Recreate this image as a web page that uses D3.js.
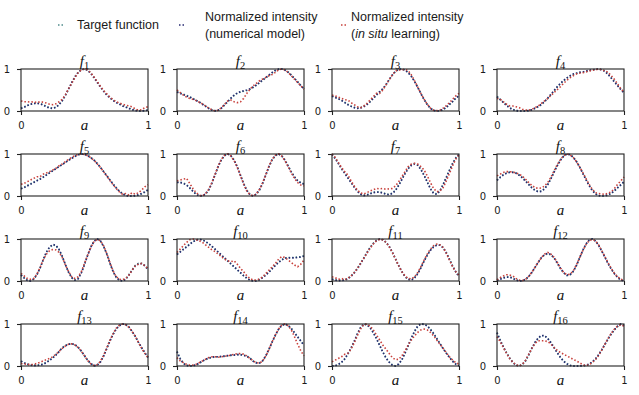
<!DOCTYPE html>
<html>
  <head>
    <script src="https://cdnjs.cloudflare.com/ajax/libs/d3/7.8.5/d3.min.js"></script>
    <style type="text/css">
      body { margin: 0; padding: 0; background: #fff; }
      svg { display: block; }
      .legend text { font-family: "Liberation Sans", Arial, sans-serif; font-size: 12.5px; fill: #1a1a1a; }
      .tick text { font-family: "DejaVu Sans", sans-serif; font-size: 10px; fill: #1a1a1a; }
      .tick line { stroke: #222; stroke-width: 1.1; }
      .title, .xlabel { font-family: "Liberation Serif", "DejaVu Serif", serif; font-style: italic; fill: #111; }
    </style>
  </head>
  <body>
    <div id="chart"></div>
    <script type="text/javascript">
    // sample positions along a
    const aGrid = [0,0.025,0.05,0.075,0.1,0.125,0.15,0.175,0.2,0.225,0.25,0.275,0.3,0.325,0.35,0.375,0.4,0.425,0.45,0.475,0.5,
      0.525,0.55,0.575,0.6,0.625,0.65,0.675,0.7,0.725,0.75,0.775,0.8,0.825,0.85,0.875,0.9,0.925,0.95,0.975,1];
    const xTicks = [0, 1];
    const yTicks = [0, 1];
    const seriesNames = ['Target function', 'Normalized intensity|(numerical model)', 'Normalized intensity|(in situ learning)'];

    const targetF1 = [0.07,0.10,0.13,0.16,0.18,0.19,0.18,0.15,0.11,0.08,0.07,0.09,0.15,0.24,0.37,0.52,0.67,0.81,0.92,0.98,1.00,0.97,0.90,0.80,0.69,0.58,0.48,0.39,0.32,0.26,0.21,0.17,0.13,0.10,0.07,0.04,0.02,0.00,0.00,0.01,0.03];
    const modelF1 = [0.06,0.09,0.13,0.16,0.18,0.18,0.17,0.14,0.10,0.07,0.06,0.09,0.15,0.25,0.38,0.53,0.68,0.82,0.92,0.98,1.00,0.97,0.89,0.79,0.68,0.57,0.47,0.38,0.31,0.25,0.20,0.16,0.12,0.09,0.06,0.03,0.01,0.00,0.00,0.01,0.02];
    const situF1 = [0.24,0.22,0.22,0.21,0.22,0.20,0.22,0.21,0.19,0.16,0.15,0.17,0.22,0.28,0.39,0.53,0.66,0.80,0.91,0.98,1.00,0.98,0.91,0.81,0.70,0.59,0.49,0.41,0.33,0.27,0.22,0.19,0.16,0.14,0.12,0.10,0.05,0.02,0.03,0.08,0.10];

    const targetF2 = [0.46,0.43,0.40,0.37,0.34,0.30,0.26,0.22,0.17,0.12,0.07,0.03,0.01,0.02,0.07,0.14,0.22,0.30,0.37,0.42,0.45,0.47,0.49,0.52,0.56,0.61,0.67,0.73,0.79,0.85,0.91,0.96,0.99,1.00,0.98,0.93,0.86,0.78,0.70,0.61,0.53];
    const modelF2 = [0.45,0.42,0.39,0.36,0.33,0.29,0.25,0.21,0.16,0.11,0.06,0.02,0.00,0.02,0.07,0.15,0.23,0.31,0.38,0.43,0.46,0.48,0.50,0.53,0.57,0.62,0.68,0.74,0.80,0.86,0.92,0.97,1.00,1.00,0.97,0.92,0.85,0.77,0.69,0.60,0.52];
    const situF2 = [0.50,0.44,0.38,0.33,0.30,0.28,0.25,0.21,0.17,0.12,0.07,0.03,0.00,0.02,0.08,0.16,0.24,0.26,0.22,0.20,0.22,0.30,0.42,0.52,0.60,0.66,0.72,0.76,0.80,0.84,0.87,0.92,0.98,1.00,0.98,0.92,0.84,0.76,0.68,0.60,0.52];

    const targetF3 = [0.36,0.33,0.30,0.26,0.21,0.16,0.12,0.09,0.07,0.08,0.11,0.16,0.22,0.30,0.38,0.45,0.52,0.62,0.74,0.85,0.94,0.99,1.00,0.98,0.92,0.83,0.71,0.57,0.42,0.28,0.16,0.07,0.02,0.00,0.00,0.03,0.08,0.15,0.22,0.30,0.37];
    const modelF3 = [0.35,0.32,0.29,0.25,0.20,0.15,0.11,0.08,0.06,0.07,0.10,0.15,0.22,0.30,0.38,0.46,0.53,0.63,0.75,0.86,0.95,0.99,1.00,0.97,0.91,0.82,0.70,0.56,0.41,0.27,0.15,0.06,0.01,0.00,0.01,0.04,0.09,0.16,0.23,0.31,0.36];
    const situF3 = [0.38,0.36,0.33,0.30,0.27,0.26,0.20,0.15,0.10,0.08,0.12,0.18,0.26,0.34,0.42,0.42,0.50,0.62,0.74,0.86,0.95,0.98,0.98,0.99,0.96,0.86,0.72,0.57,0.42,0.28,0.16,0.07,0.02,0.01,0.02,0.07,0.13,0.20,0.28,0.36,0.42];

    const targetF4 = [0.35,0.28,0.21,0.14,0.08,0.04,0.01,0.00,0.00,0.00,0.01,0.03,0.06,0.10,0.15,0.22,0.30,0.39,0.48,0.57,0.65,0.72,0.78,0.83,0.87,0.90,0.92,0.93,0.94,0.96,0.98,0.99,1.00,0.99,0.95,0.88,0.79,0.70,0.61,0.52,0.44];
    const modelF4 = [0.34,0.27,0.20,0.13,0.07,0.03,0.01,0.00,0.00,0.00,0.01,0.03,0.07,0.11,0.16,0.23,0.31,0.40,0.49,0.58,0.66,0.73,0.79,0.84,0.88,0.90,0.92,0.93,0.95,0.97,0.98,0.99,1.00,0.98,0.94,0.87,0.78,0.69,0.60,0.51,0.43];
    const situF4 = [0.30,0.28,0.22,0.16,0.12,0.12,0.10,0.08,0.04,0.02,0.02,0.04,0.08,0.12,0.18,0.24,0.30,0.37,0.44,0.51,0.58,0.66,0.73,0.79,0.84,0.88,0.90,0.91,0.93,0.95,0.97,0.98,1.00,0.98,0.96,0.92,0.84,0.75,0.64,0.53,0.45];

    const targetF5 = [0.18,0.21,0.25,0.29,0.33,0.37,0.41,0.45,0.50,0.55,0.60,0.65,0.70,0.75,0.80,0.85,0.90,0.95,0.98,1.00,0.99,0.97,0.92,0.86,0.78,0.69,0.59,0.49,0.39,0.29,0.20,0.12,0.06,0.02,0.00,0.00,0.00,0.02,0.05,0.09,0.14];
    const modelF5 = [0.17,0.20,0.24,0.28,0.32,0.36,0.40,0.45,0.50,0.55,0.60,0.65,0.70,0.75,0.80,0.85,0.90,0.94,0.98,1.00,0.99,0.96,0.91,0.85,0.77,0.68,0.58,0.48,0.38,0.28,0.19,0.11,0.05,0.01,0.00,0.00,0.01,0.03,0.06,0.10,0.15];
    const situF5 = [0.28,0.30,0.34,0.38,0.42,0.46,0.46,0.52,0.55,0.58,0.62,0.66,0.72,0.76,0.82,0.87,0.92,0.96,0.99,1.00,0.99,0.96,0.91,0.85,0.77,0.68,0.58,0.48,0.37,0.27,0.18,0.10,0.04,0.06,0.02,0.08,0.04,0.08,0.14,0.22,0.27];

    const targetF6 = [0.33,0.33,0.31,0.27,0.20,0.12,0.05,0.01,0.00,0.04,0.14,0.30,0.50,0.70,0.86,0.96,1.00,0.96,0.86,0.70,0.50,0.30,0.14,0.04,0.00,0.04,0.14,0.30,0.50,0.70,0.86,0.96,1.00,0.96,0.86,0.72,0.58,0.46,0.37,0.32,0.29];
    const modelF6 = [0.32,0.32,0.30,0.26,0.19,0.11,0.04,0.00,0.01,0.05,0.15,0.31,0.51,0.71,0.87,0.97,1.00,0.95,0.85,0.69,0.49,0.29,0.13,0.03,0.00,0.05,0.15,0.31,0.51,0.71,0.87,0.97,1.00,0.95,0.85,0.71,0.57,0.45,0.36,0.31,0.28];
    const situF6 = [0.36,0.38,0.40,0.42,0.30,0.18,0.08,0.02,0.00,0.06,0.16,0.32,0.52,0.72,0.88,0.97,1.00,0.95,0.84,0.68,0.48,0.28,0.12,0.03,0.00,0.05,0.16,0.32,0.52,0.72,0.88,0.97,1.00,0.95,0.84,0.70,0.55,0.42,0.32,0.26,0.24];

    const targetF7 = [1.00,0.90,0.78,0.66,0.55,0.44,0.33,0.22,0.12,0.05,0.02,0.03,0.06,0.09,0.10,0.10,0.08,0.05,0.04,0.07,0.14,0.26,0.40,0.54,0.66,0.74,0.77,0.74,0.64,0.50,0.34,0.18,0.07,0.05,0.13,0.28,0.45,0.62,0.78,0.91,1.00];
    const modelF7 = [0.99,0.89,0.77,0.65,0.54,0.43,0.32,0.21,0.11,0.04,0.01,0.02,0.05,0.08,0.09,0.09,0.07,0.04,0.03,0.06,0.13,0.25,0.39,0.53,0.65,0.73,0.76,0.73,0.63,0.49,0.33,0.17,0.06,0.04,0.12,0.27,0.44,0.61,0.77,0.90,0.99];
    const situF7 = [1.00,0.92,0.80,0.68,0.58,0.50,0.36,0.24,0.14,0.07,0.05,0.08,0.12,0.15,0.18,0.17,0.18,0.16,0.17,0.18,0.24,0.34,0.46,0.58,0.70,0.76,0.78,0.76,0.70,0.62,0.48,0.32,0.18,0.10,0.12,0.20,0.36,0.54,0.72,0.88,0.98];

    const targetF8 = [0.38,0.45,0.51,0.55,0.57,0.57,0.55,0.50,0.44,0.36,0.28,0.20,0.14,0.11,0.12,0.18,0.28,0.42,0.58,0.73,0.86,0.95,1.00,0.99,0.93,0.83,0.70,0.55,0.40,0.26,0.14,0.06,0.01,0.00,0.00,0.02,0.06,0.12,0.19,0.26,0.33];
    const modelF8 = [0.37,0.44,0.50,0.54,0.56,0.56,0.54,0.49,0.43,0.35,0.27,0.19,0.13,0.10,0.11,0.17,0.27,0.41,0.57,0.72,0.85,0.95,1.00,0.98,0.92,0.82,0.69,0.54,0.39,0.25,0.13,0.05,0.01,0.00,0.01,0.03,0.07,0.13,0.20,0.27,0.34];
    const situF8 = [0.48,0.52,0.56,0.58,0.58,0.57,0.55,0.52,0.47,0.40,0.32,0.25,0.20,0.18,0.19,0.24,0.32,0.45,0.60,0.75,0.87,0.96,1.00,0.98,0.92,0.82,0.70,0.56,0.42,0.28,0.16,0.08,0.06,0.05,0.04,0.07,0.10,0.18,0.28,0.36,0.45];

    const targetF9 = [0.15,0.08,0.02,0.00,0.04,0.14,0.30,0.50,0.68,0.80,0.86,0.84,0.74,0.58,0.38,0.20,0.07,0.02,0.06,0.20,0.40,0.62,0.82,0.95,1.00,0.95,0.82,0.64,0.42,0.22,0.08,0.01,0.00,0.05,0.15,0.27,0.37,0.42,0.42,0.37,0.28];
    const modelF9 = [0.14,0.07,0.01,0.00,0.05,0.15,0.31,0.51,0.69,0.81,0.87,0.85,0.75,0.59,0.39,0.21,0.08,0.02,0.05,0.19,0.39,0.61,0.81,0.94,1.00,0.96,0.83,0.65,0.43,0.23,0.09,0.02,0.00,0.04,0.14,0.26,0.36,0.41,0.41,0.36,0.27];
    const situF9 = [0.18,0.12,0.06,0.04,0.06,0.16,0.32,0.50,0.64,0.72,0.75,0.74,0.68,0.56,0.38,0.22,0.10,0.06,0.10,0.22,0.42,0.62,0.80,0.94,0.99,0.96,0.84,0.66,0.44,0.24,0.10,0.04,0.03,0.06,0.14,0.26,0.36,0.40,0.42,0.36,0.30];

    const targetF10 = [0.64,0.70,0.76,0.82,0.88,0.94,0.98,1.00,0.98,0.94,0.88,0.82,0.75,0.68,0.61,0.54,0.47,0.40,0.33,0.26,0.19,0.12,0.06,0.02,0.00,0.01,0.04,0.09,0.15,0.22,0.30,0.38,0.45,0.51,0.55,0.56,0.56,0.56,0.57,0.58,0.60];
    const modelF10 = [0.63,0.69,0.75,0.81,0.87,0.93,0.97,0.99,0.98,0.94,0.89,0.83,0.76,0.69,0.62,0.55,0.48,0.41,0.34,0.27,0.20,0.13,0.07,0.02,0.00,0.00,0.03,0.08,0.14,0.21,0.29,0.37,0.44,0.50,0.54,0.55,0.55,0.55,0.56,0.57,0.59];
    const situF10 = [0.68,0.76,0.84,0.92,0.98,1.00,0.98,0.96,0.92,0.86,0.80,0.74,0.70,0.64,0.58,0.52,0.48,0.46,0.48,0.40,0.30,0.22,0.12,0.06,0.02,0.02,0.05,0.10,0.18,0.26,0.34,0.42,0.52,0.58,0.56,0.50,0.44,0.38,0.34,0.40,0.50];

    const targetF11 = [0.05,0.03,0.02,0.02,0.03,0.06,0.12,0.20,0.30,0.42,0.55,0.68,0.80,0.90,0.97,1.00,0.98,0.92,0.82,0.68,0.52,0.36,0.22,0.10,0.04,0.03,0.08,0.18,0.32,0.48,0.62,0.74,0.82,0.86,0.86,0.80,0.68,0.52,0.36,0.22,0.11];
    const modelF11 = [0.04,0.02,0.01,0.01,0.02,0.05,0.11,0.19,0.29,0.41,0.54,0.67,0.79,0.89,0.96,1.00,0.98,0.93,0.83,0.69,0.53,0.37,0.23,0.11,0.04,0.02,0.07,0.17,0.31,0.47,0.61,0.73,0.81,0.85,0.85,0.79,0.67,0.51,0.35,0.21,0.10];
    const situF11 = [0.10,0.08,0.04,0.06,0.03,0.07,0.12,0.20,0.30,0.42,0.54,0.66,0.78,0.88,0.96,0.99,0.98,0.92,0.82,0.68,0.52,0.36,0.22,0.12,0.06,0.05,0.10,0.20,0.34,0.50,0.64,0.76,0.84,0.88,0.86,0.80,0.66,0.50,0.34,0.22,0.14];

    const targetF12 = [0.02,0.05,0.08,0.10,0.10,0.07,0.03,0.00,0.00,0.03,0.10,0.20,0.32,0.44,0.55,0.62,0.65,0.62,0.54,0.42,0.29,0.19,0.13,0.14,0.22,0.36,0.54,0.72,0.87,0.97,1.00,0.96,0.86,0.72,0.57,0.42,0.29,0.18,0.09,0.03,0.00];
    const modelF12 = [0.01,0.04,0.07,0.09,0.09,0.06,0.02,0.00,0.01,0.04,0.11,0.21,0.33,0.45,0.56,0.63,0.66,0.63,0.55,0.43,0.30,0.20,0.14,0.15,0.23,0.37,0.55,0.73,0.88,0.97,1.00,0.95,0.85,0.71,0.56,0.41,0.28,0.17,0.08,0.02,0.00];
    const situF12 = [0.03,0.08,0.12,0.15,0.14,0.12,0.06,0.02,0.01,0.04,0.11,0.21,0.33,0.45,0.56,0.64,0.68,0.64,0.56,0.44,0.31,0.20,0.15,0.16,0.24,0.38,0.55,0.72,0.86,0.96,0.99,0.96,0.86,0.72,0.58,0.43,0.30,0.18,0.10,0.04,0.02];

    const targetF13 = [0.12,0.08,0.05,0.03,0.02,0.02,0.03,0.05,0.09,0.14,0.20,0.27,0.35,0.44,0.49,0.52,0.53,0.50,0.44,0.35,0.24,0.13,0.05,0.00,0.02,0.10,0.24,0.42,0.60,0.76,0.89,0.97,1.00,0.98,0.92,0.82,0.70,0.56,0.43,0.31,0.20];
    const modelF13 = [0.11,0.07,0.04,0.02,0.01,0.01,0.02,0.04,0.08,0.13,0.19,0.26,0.34,0.43,0.48,0.52,0.53,0.51,0.45,0.36,0.25,0.14,0.06,0.01,0.02,0.09,0.23,0.41,0.59,0.75,0.88,0.96,1.00,0.99,0.93,0.83,0.71,0.57,0.44,0.32,0.21];
    const situF13 = [0.06,0.05,0.04,0.03,0.04,0.06,0.09,0.12,0.15,0.18,0.22,0.28,0.35,0.42,0.48,0.52,0.53,0.50,0.44,0.35,0.24,0.13,0.05,0.01,0.03,0.11,0.25,0.43,0.61,0.77,0.90,0.97,1.00,0.98,0.92,0.82,0.70,0.56,0.42,0.30,0.20];

    const targetF14 = [0.35,0.18,0.07,0.02,0.00,0.00,0.02,0.06,0.11,0.15,0.18,0.20,0.22,0.22,0.22,0.23,0.24,0.25,0.26,0.27,0.27,0.26,0.24,0.19,0.12,0.08,0.07,0.12,0.24,0.40,0.57,0.73,0.87,0.96,1.00,0.97,0.90,0.80,0.70,0.60,0.50];
    const modelF14 = [0.34,0.17,0.06,0.01,0.00,0.01,0.03,0.07,0.12,0.16,0.19,0.21,0.22,0.22,0.23,0.24,0.25,0.26,0.26,0.27,0.27,0.25,0.23,0.18,0.11,0.07,0.07,0.13,0.25,0.41,0.58,0.74,0.88,0.97,1.00,0.96,0.89,0.79,0.69,0.59,0.49];
    const situF14 = [0.20,0.12,0.08,0.04,0.02,0.02,0.04,0.08,0.12,0.16,0.20,0.22,0.22,0.21,0.22,0.23,0.24,0.26,0.28,0.29,0.30,0.28,0.24,0.18,0.12,0.08,0.07,0.12,0.24,0.40,0.58,0.74,0.88,0.97,1.00,0.96,0.86,0.70,0.52,0.36,0.24];

    const targetF15 = [0.00,0.00,0.03,0.08,0.16,0.28,0.42,0.58,0.76,0.91,0.99,0.99,0.92,0.80,0.66,0.50,0.34,0.20,0.10,0.03,0.00,0.04,0.14,0.30,0.48,0.66,0.82,0.94,1.00,1.00,0.96,0.88,0.78,0.66,0.54,0.42,0.31,0.21,0.12,0.05,0.01];
    const modelF15 = [0.00,0.01,0.04,0.09,0.17,0.29,0.43,0.59,0.77,0.92,1.00,0.98,0.91,0.79,0.65,0.49,0.33,0.19,0.09,0.02,0.00,0.05,0.15,0.31,0.49,0.67,0.83,0.95,1.00,0.99,0.95,0.87,0.77,0.65,0.53,0.41,0.30,0.20,0.11,0.04,0.00];
    const situF15 = [0.10,0.14,0.18,0.22,0.28,0.30,0.40,0.55,0.72,0.88,0.98,1.00,0.95,0.86,0.74,0.62,0.50,0.40,0.30,0.20,0.15,0.16,0.24,0.36,0.50,0.62,0.72,0.80,0.86,0.88,0.86,0.80,0.72,0.62,0.52,0.42,0.32,0.22,0.14,0.08,0.04];

    const targetF16 = [0.80,0.62,0.46,0.32,0.19,0.09,0.02,0.00,0.03,0.12,0.26,0.42,0.56,0.66,0.72,0.72,0.66,0.56,0.44,0.32,0.21,0.12,0.06,0.02,0.00,0.00,0.00,0.00,0.01,0.04,0.09,0.16,0.26,0.38,0.51,0.64,0.76,0.86,0.94,0.99,0.97];
    const modelF16 = [0.79,0.61,0.45,0.31,0.18,0.08,0.02,0.00,0.04,0.13,0.27,0.43,0.57,0.67,0.73,0.72,0.65,0.55,0.43,0.31,0.20,0.11,0.05,0.01,0.00,0.00,0.00,0.01,0.02,0.05,0.10,0.17,0.27,0.39,0.52,0.65,0.77,0.87,0.95,1.00,0.96];
    const situF16 = [0.70,0.58,0.44,0.30,0.18,0.09,0.03,0.00,0.04,0.14,0.28,0.42,0.54,0.60,0.60,0.60,0.58,0.52,0.44,0.37,0.32,0.28,0.24,0.20,0.16,0.12,0.08,0.03,0.01,0.03,0.08,0.15,0.25,0.38,0.52,0.66,0.78,0.88,0.95,0.98,0.95];

    const panels = [
      [targetF1, modelF1, situF1], [targetF2, modelF2, situF2], [targetF3, modelF3, situF3], [targetF4, modelF4, situF4],
      [targetF5, modelF5, situF5], [targetF6, modelF6, situF6], [targetF7, modelF7, situF7], [targetF8, modelF8, situF8],
      [targetF9, modelF9, situF9], [targetF10, modelF10, situF10], [targetF11, modelF11, situF11], [targetF12, modelF12, situF12],
      [targetF13, modelF13, situF13], [targetF14, modelF14, situF14], [targetF15, modelF15, situF15], [targetF16, modelF16, situF16]
    ];

    // layout of the 4x4 grid (left edges / top edges of plot boxes)
    const colLeft = [21, 177, 332, 497];
    const rowTop = [69, 154, 239, 324];
    const panelW = 127, panelH = 42;
    const colors = ['#4f8a8b', '#262a72', '#c8413c'];
    const dash = '1.5 2';

    const svg = d3.select('#chart').append('svg')
      .attr('width', 639)
      .attr('height', 395);

    const x = d3.scaleLinear().domain([0, 1]).range([0, panelW]);
    const y = d3.scaleLinear().domain([0, 1]).range([panelH, 0]);
    const line = d3.line()
      .x((d, i) => x(aGrid[i]))
      .y(d => y(d));

    panels.forEach((series, k) => {
      const g = svg.append('g')
        .attr('transform', `translate(${colLeft[k % 4]},${rowTop[Math.floor(k / 4)]})`);

      g.append('g')
        .attr('transform', `translate(0,${panelH})`)
        .call(d3.axisBottom(x).tickValues(xTicks).tickSize(4).tickPadding(7).tickFormat(d3.format('d')))
        .call(a => a.select('.domain').remove());
      g.append('g')
        .call(d3.axisLeft(y).tickValues(yTicks).tickSize(4).tickPadding(7).tickFormat(d3.format('d')))
        .call(a => a.select('.domain').remove());

      series.forEach((vals, s) => {
        g.append('path')
          .datum(vals)
          .attr('d', line)
          .attr('fill', 'none')
          .attr('stroke', colors[s])
          .attr('stroke-width', 1.6)
          .attr('stroke-dasharray', dash);
      });

      g.append('rect')
        .attr('width', panelW)
        .attr('height', panelH)
        .attr('fill', 'none')
        .attr('stroke', '#222')
        .attr('stroke-width', 1.1);

      const title = g.append('text')
        .attr('class', 'title')
        .attr('x', panelW / 2)
        .attr('y', -3)
        .attr('text-anchor', 'middle');
      title.append('tspan').attr('font-size', 15).text('f');
      title.append('tspan').attr('font-size', 10.5).attr('font-style', 'normal').attr('dy', 3).text(k + 1);

      g.append('text')
        .attr('class', 'xlabel')
        .attr('x', panelW / 2)
        .attr('y', panelH + 19)
        .attr('text-anchor', 'middle')
        .attr('font-size', 15)
        .text('a');
    });

    // legend
    const legend = svg.append('g').attr('class', 'legend');
    const legendPos = [[58, 77], [179, 205], [341, 351]];
    seriesNames.forEach((name, s) => {
      const [mx, tx] = legendPos[s];
      legend.append('path')
        .attr('d', `M${mx},25H${mx + 7}`)
        .attr('stroke', colors[s])
        .attr('stroke-width', 1.6)
        .attr('stroke-dasharray', dash);
      const lines = name.split('|');
      const t = legend.append('text').attr('x', tx).attr('y', lines.length === 1 ? 29 : 21);
      lines.forEach((ln, i) => {
        const span = t.append('tspan').attr('x', tx).attr('dy', i === 0 ? 0 : 17);
        if (ln.indexOf('in situ') >= 0) {
          span.append('tspan').text('(');
          span.append('tspan').attr('font-style', 'italic').text('in situ');
          span.append('tspan').text(ln.replace('(in situ', ''));
        } else {
          span.text(ln);
        }
      });
    });
    </script>
  </body>
</html>
